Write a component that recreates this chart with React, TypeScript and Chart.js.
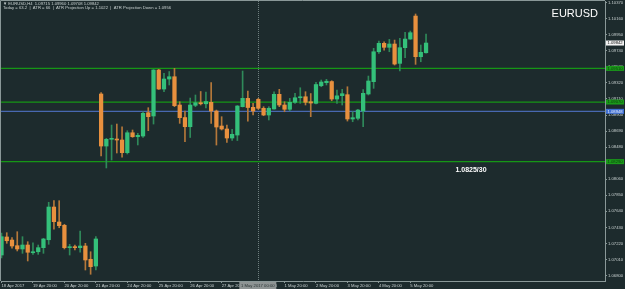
import React, { useEffect, useRef } from 'react';
import { Chart, registerables } from 'chart.js';

Chart.register(...registerables);

// ---- data (EURUSD H4, 18 Apr 2017 20:00 ... 5 May 2017) ----
const opens = [
  1.07068, 1.07304, 1.07264, 1.0719, 1.07147, 1.07199, 1.07098, 1.07111, 1.07164, 1.07268,
  1.07696, 1.075, 1.07457, 1.07164, 1.07177, 1.07164, 1.07186, 1.07012, 1.06924, 1.09175,
  1.08494, 1.08582, 1.08586, 1.08573, 1.08407, 1.08668, 1.08616, 1.08625, 1.0893, 1.08887,
  1.09489, 1.0924, 1.09371, 1.09401, 1.09031, 1.08867, 1.08747, 1.09027, 1.09061, 1.09047,
  1.09066, 1.08952, 1.08756, 1.08717, 1.08599, 1.08638, 1.09009, 1.09118, 1.09001, 1.09105,
  1.08988, 1.089, 1.08979, 1.09171, 1.09031, 1.08975, 1.09066, 1.09126, 1.09139, 1.09074,
  1.09053, 1.09283, 1.09323, 1.09338, 1.09109, 1.09153, 1.09166, 1.08848, 1.08857, 1.08952,
  1.09175, 1.09336, 1.09728, 1.09838, 1.09786, 1.09829, 1.09576, 1.09781, 1.09894, 1.10195,
  1.09663, 1.09715,
];
const highs = [
  1.07356, 1.0736, 1.07295, 1.07373, 1.07308, 1.07242, 1.07229, 1.07199, 1.07287, 1.07758,
  1.07779, 1.07779, 1.0747, 1.07208, 1.07199, 1.07382, 1.07221, 1.07111, 1.07308, 1.09192,
  1.08595, 1.08769, 1.08782, 1.08747, 1.08695, 1.08704, 1.08661, 1.08943, 1.08996, 1.09495,
  1.09498, 1.09446, 1.09469, 1.09511, 1.09074, 1.0895, 1.09122, 1.09162, 1.09208, 1.09201,
  1.09325, 1.08965, 1.08878, 1.08769, 1.08713, 1.09024, 1.09476, 1.09214, 1.09053, 1.09118,
  1.09009, 1.09009, 1.09205, 1.09236, 1.09074, 1.09118, 1.09184, 1.09257, 1.09205, 1.09181,
  1.09328, 1.09358, 1.09367, 1.09349, 1.09227, 1.09236, 1.0927, 1.08943, 1.08975, 1.09234,
  1.0941, 1.09773, 1.09868, 1.09859, 1.0989, 1.09881, 1.09904, 1.09982, 1.09999, 1.10222,
  1.09816, 1.0996,
];
const lows = [
  1.07029, 1.07221, 1.07156, 1.07121, 1.0709, 1.0699, 1.07077, 1.07077, 1.0709, 1.07208,
  1.07405, 1.07425, 1.07147, 1.07068, 1.07134, 1.07104, 1.06872, 1.06816, 1.06872, 1.08364,
  1.08207, 1.08311, 1.08403, 1.08347, 1.0839, 1.08608, 1.08508, 1.08608, 1.08695, 1.08782,
  1.09234, 1.09205, 1.09293, 1.09009, 1.08791, 1.08551, 1.08606, 1.09009, 1.09031, 1.08992,
  1.08791, 1.08507, 1.08704, 1.0854, 1.08566, 1.08566, 1.09005, 1.08821, 1.089, 1.08975,
  1.08891, 1.08835, 1.08975, 1.09009, 1.08943, 1.08956, 1.09053, 1.09053, 1.09031, 1.08878,
  1.09044, 1.0927, 1.09293, 1.09087, 1.09053, 1.09031, 1.08821, 1.08812, 1.08835, 1.08747,
  1.09162, 1.09249, 1.09707, 1.0975, 1.09728, 1.09554, 1.09476, 1.0965, 1.0989, 1.09563,
  1.09597, 1.09708,
];
const closes = [
  1.07308, 1.07255, 1.07186, 1.07147, 1.07199, 1.07104, 1.07111, 1.07164, 1.07278, 1.07696,
  1.07504, 1.07452, 1.07164, 1.07177, 1.07164, 1.07186, 1.07003, 1.06915, 1.07278, 1.08494,
  1.08582, 1.08586, 1.08573, 1.08407, 1.08668, 1.08616, 1.08634, 1.08922, 1.08878, 1.09489,
  1.0924, 1.09371, 1.09401, 1.09022, 1.08865, 1.08747, 1.09031, 1.09061, 1.09047, 1.09077,
  1.08952, 1.08743, 1.08717, 1.08599, 1.08647, 1.09018, 1.09118, 1.08998, 1.08952, 1.08988,
  1.089, 1.08988, 1.09171, 1.09031, 1.08975, 1.09066, 1.09126, 1.09139, 1.09066, 1.09057,
  1.09299, 1.09332, 1.09342, 1.09109, 1.09151, 1.09179, 1.08848, 1.08865, 1.08965, 1.09184,
  1.09345, 1.09728, 1.09838, 1.09786, 1.09829, 1.09567, 1.09781, 1.09894, 1.09977, 1.09663,
  1.0972, 1.09842,
];

const xTickIndex = [0, 6, 12, 18, 24, 30, 36, 42, 48, 54, 60, 66, 72, 78];
const xTickLabels = [
  '18 Apr 2017', '19 Apr 20:00', '20 Apr 20:00', '21 Apr 20:00', '24 Apr 20:00',
  '25 Apr 20:00', '26 Apr 20:00', '27 Apr 20:00', '28 Apr 20:00', '1 May 20:00',
  '2 May 20:00', '3 May 20:00', '4 May 20:00', '5 May 20:00',
];
const yTickValues = [
  1.068, 1.0701, 1.0722, 1.0743, 1.0764, 1.0785, 1.0806, 1.0827, 1.0848,
  1.0869, 1.089, 1.0911, 1.0932, 1.0953, 1.0974, 1.0995, 1.1016, 1.1037,
];
const greenLevels = [1.0951, 1.0907, 1.0829];
const blueLevels = [1.08948];
const lastPrice = 1.09842;
const markerIndex = 48.9;
const markerLabel = '1 May 2017 00:00';
const noteText = '1.0825/30';
const noteIndex = 86.6;
const notePrice = 1.0818;
const symbolText = 'EURUSD';
const headerLine1 = '\u25BC EURUSD,H4  1.09715 1.09960 1.09708 1.09842';
const headerLine2 = 'Today = 63.2  |  ATR = 66  |  ATR Projection Up = 1.1022  |  ATR Projection Down = 1.0956';

// ---- styles ----
const BG = '#1d2b2d';
const AXIS = '#8a9898';
const TEXT = '#c8d0d0';
const UP = '#34c07a';
const DOWN = '#e8903e';
const UP_WICK = '#2f8a5a';
const DOWN_WICK = '#b5783a';
const LINE_GREEN = '#169616';
const LINE_BLUE = '#4868b0';
const FONT = '"Liberation Sans", Arial, sans-serif';
const SMALL = 4.2;

export default function App() {
  const ref = useRef<HTMLCanvasElement>(null);

  useEffect(() => {
    const canvas = ref.current;
    if (!canvas) return;
    const isUp = (i: number) => closes[i] >= opens[i];
    const bodies = opens.map((o, i) => ({ x: i, y: [o, closes[i]] }));
    const wicks = opens.map((_, i) => ({ x: i, y: [lows[i], highs[i]] }));

    const bgPlugin = {
      id: 'bg',
      beforeDraw(chart: any) {
        const c = chart.ctx;
        c.save();
        c.fillStyle = BG;
        c.fillRect(0, 0, chart.width, chart.height);
        c.restore();
      },
      beforeDatasetsDraw(chart: any) {
        const c = chart.ctx;
        const { left, right, top, bottom } = chart.chartArea;
        const ys = chart.scales.y;
        const xs = chart.scales.x;
        c.save();
        // vertical dashed marker
        const mx = Math.round(xs.getPixelForValue(markerIndex)) + 0.5;
        c.strokeStyle = '#6f7f7f';
        c.lineWidth = 1;
        c.setLineDash([1, 1]);
        c.beginPath();
        c.moveTo(mx, top);
        c.lineTo(mx, bottom);
        c.stroke();
        c.setLineDash([]);
        // horizontal levels
        c.lineWidth = 1.2;
        c.strokeStyle = LINE_GREEN;
        greenLevels.forEach((v) => {
          const y = ys.getPixelForValue(v);
          c.beginPath();
          c.moveTo(left, y);
          c.lineTo(right, y);
          c.stroke();
        });
        c.strokeStyle = LINE_BLUE;
        blueLevels.forEach((v) => {
          const y = ys.getPixelForValue(v);
          c.beginPath();
          c.moveTo(left, y);
          c.lineTo(right, y);
          c.stroke();
        });
        c.restore();
      },
      afterDraw(chart: any) {
        const c = chart.ctx;
        const { left, right, top, bottom } = chart.chartArea;
        const ys = chart.scales.y;
        const xs = chart.scales.x;
        c.save();
        // top & left border
        c.strokeStyle = AXIS;
        c.lineWidth = 1;
        c.beginPath();
        c.moveTo(left - 0.5, bottom);
        c.lineTo(left - 0.5, top - 0.5);
        c.lineTo(right, top - 0.5);
        c.stroke();

        // price boxes
        const box = (v: number, fill: string, color: string) => {
          const y = ys.getPixelForValue(v);
          c.fillStyle = fill;
          c.fillRect(right + 1, y - 2.5, 18, 5);
          c.fillStyle = color;
          c.font = `${SMALL}px ${FONT}`;
          c.textAlign = 'left';
          c.textBaseline = 'middle';
          c.fillText(v.toFixed(5), right + 2.5, y + 0.2);
        };
        greenLevels.forEach((v) => box(v, '#1a9a1a', '#0c3a0c'));
        blueLevels.forEach((v) => box(v, '#3f6fd4', '#e8eef8'));
        box(lastPrice, '#f2f2f2', '#111111');

        // header text
        c.fillStyle = TEXT;
        c.font = `${SMALL}px ${FONT}`;
        c.textAlign = 'left';
        c.textBaseline = 'middle';
        c.fillText(headerLine1, 3, 3.6);
        c.fillText(headerLine2, 3, 8.2);

        // symbol
        c.fillStyle = '#ffffff';
        c.font = `11px ${FONT}`;
        c.textAlign = 'right';
        c.textBaseline = 'alphabetic';
        c.fillText(symbolText, 598, 16.5);

        // note
        c.font = `bold 7px ${FONT}`;
        c.textAlign = 'left';
        c.textBaseline = 'middle';
        c.fillText(noteText, xs.getPixelForValue(noteIndex), ys.getPixelForValue(notePrice));

        // marker date box
        const mx = xs.getPixelForValue(markerIndex);
        c.fillStyle = '#8e9494';
        c.fillRect(mx - 18.5, bottom + 1, 37, 7);
        c.fillStyle = '#2a3434';
        c.font = `${SMALL}px ${FONT}`;
        c.textAlign = 'center';
        c.textBaseline = 'middle';
        c.fillText(markerLabel, mx, bottom + 4.7);
        c.restore();
      },
    };

    const chart = new Chart(canvas, {
      type: 'bar',
      data: {
        datasets: [
          {
            label: 'body',
            data: bodies as any,
            backgroundColor: (ctx: any) => (isUp(ctx.dataIndex) ? UP : DOWN),
            barThickness: 3.6,
            grouped: false,
            minBarLength: 1,
            borderWidth: 0,
          } as any,
          {
            label: 'wick',
            data: wicks as any,
            backgroundColor: (ctx: any) => (isUp(ctx.dataIndex) ? UP_WICK : DOWN_WICK),
            barThickness: 1,
            grouped: false,
            borderWidth: 0,
          } as any,
        ],
      },
      options: {
        animation: false,
        responsive: false,
        maintainAspectRatio: false,
        layout: { padding: { left: 1, top: 1, right: 0, bottom: 0 } },
        plugins: { legend: { display: false }, tooltip: { enabled: false } },
        scales: {
          x: {
            type: 'linear',
            min: -0.1,
            max: 115.145,
            offset: false,
            grid: { display: true, drawOnChartArea: false, drawTicks: true, tickLength: 2, color: AXIS, offset: false },
            border: { display: true, color: AXIS, width: 1 },
            ticks: {
              autoSkip: false,
              maxRotation: 0,
              minRotation: 0,
              align: 'start',
              padding: 0,
              color: TEXT,
              font: { family: FONT, size: SMALL },
              callback: (_v: any, i: number) => xTickLabels[i],
            },
            afterBuildTicks: (s: any) => {
              s.ticks = xTickIndex.map((v) => ({ value: v }));
            },
            afterFit: (s: any) => {
              s.height = 8;
              s.paddingLeft = 0;
              s.paddingRight = 0;
            },
          } as any,
          y: {
            type: 'linear',
            position: 'right',
            min: 1.06728,
            max: 1.10392,
            grid: { display: true, drawOnChartArea: false, drawTicks: true, tickLength: 2, color: AXIS },
            border: { display: true, color: AXIS, width: 1 },
            ticks: {
              autoSkip: false,
              padding: 1,
              color: TEXT,
              font: { family: FONT, size: SMALL },
              callback: (v: any) => Number(v).toFixed(5),
            },
            afterBuildTicks: (s: any) => {
              s.ticks = yTickValues.map((v) => ({ value: v }));
            },
            afterFit: (s: any) => {
              s.width = 20;
              s.paddingTop = 0;
              s.paddingBottom = 0;
            },
          } as any,
        },
      },
      plugins: [bgPlugin],
    });
    return () => chart.destroy();
  }, []);

  return (
    <div style={{ position: 'fixed', left: 0, top: 0, width: 625, height: 289, background: BG }}>
      <canvas ref={ref} width={625} height={289} style={{ display: 'block', width: 625, height: 289 }} />
    </div>
  );
}
